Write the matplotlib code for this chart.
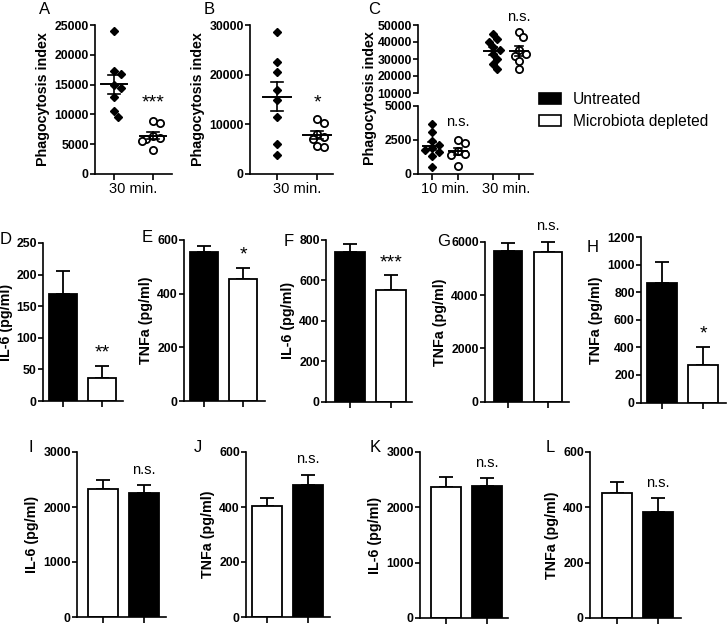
import numpy as np
import matplotlib
matplotlib.use("Agg")
import matplotlib.pyplot as plt
from matplotlib.patches import Patch

plt.rcParams['font.family'] = ['Liberation Sans', 'DejaVu Sans']

# phagocytosis index, one value per animal
a_untreated = [24000, 17300, 16800, 15000, 14500, 13000, 10500, 9600]
a_depleted = [8900, 8600, 6300, 6000, 5800, 5600, 4000]
b_untreated = [28500, 22500, 20500, 17000, 15000, 11500, 6000, 3800]
b_depleted = [11000, 10300, 8000, 7500, 7000, 5600, 5400]
c10_untreated = [3700, 3100, 2400, 2100, 1900, 1800, 1600, 1300, 500]
c10_depleted = [2500, 2300, 1700, 1500, 1400, 600]
c30_untreated = [45000, 42000, 40000, 37000, 35000, 33000, 30000, 27000, 24000]
c30_depleted = [46000, 43000, 35000, 33000, 32000, 29000, 24000]

# cytokine bar panels D-L: (mean, sem) for the two bars
bar_letters = ['D', 'E', 'F', 'G', 'H', 'I', 'J', 'K', 'L']
bar_ylabels = ['IL-6 (pg/ml)', 'TNFa (pg/ml)', 'IL-6 (pg/ml)', 'TNFa (pg/ml)', 'TNFa (pg/ml)',
               'IL-6 (pg/ml)', 'TNFa (pg/ml)', 'IL-6 (pg/ml)', 'TNFa (pg/ml)']
bar_means = [[169, 36], [556, 456], [742, 553], [5670, 5640], [870, 272],
             [2325, 2257], [404, 480], [2370, 2385], [452, 382]]
bar_sems = [[36, 20], [23, 40], [37, 72], [280, 370], [150, 133],
            [175, 140], [27, 38], [180, 145], [39, 52]]
bar_ymax = [250, 600, 800, 6000, 1200, 3000, 600, 3000, 600]
bar_ystep = [50, 200, 200, 2000, 200, 1000, 200, 1000, 200]
bar_sig = ['**', '*', '***', 'n.s.', '*', 'n.s.', 'n.s.', 'n.s.', 'n.s.']

W, H = 727, 625
fig = plt.figure(figsize=(W / 100, H / 100), dpi=100)


def box(l, r, t, b):
    return [l / W, 1 - b / H, (r - l) / W, (b - t) / H]


def style(ax, bottom=True):
    ax.spines['top'].set_visible(False)
    ax.spines['right'].set_visible(False)
    ax.spines['left'].set_linewidth(1.2)
    ax.spines['bottom'].set_linewidth(1.2)
    if not bottom:
        ax.spines['bottom'].set_visible(False)
        ax.tick_params(axis='x', which='both', bottom=False, labelbottom=False)
    ax.tick_params(axis='y', length=3.5, width=1.2, pad=1, labelsize=8.8)
    ax.tick_params(axis='x', which='major', length=4, width=1.2)
    for t in ax.get_yticklabels():
        t.set_fontweight('bold')


def swarm(ax, x0, vals, d=8.0):
    # spread overlapping points sideways, in pixel space
    pts = ax.transData.transform(np.column_stack([np.full(len(vals), x0), vals]))
    xs = np.empty(len(vals))
    placed = []
    for i in np.argsort(vals)[::-1]:
        px, py = pts[i]
        for k in [0, 1, -1, 2, -2, 3, -3]:
            cx = px + k * d * 0.45
            if all(np.hypot(cx - qx, py - qy) >= d * 0.7 for qx, qy in placed):
                break
        placed.append((cx, py))
        xs[i] = cx
    return ax.transData.inverted().transform(np.column_stack([xs, pts[:, 1]]))[:, 0]


def dots(ax, x0, vals, filled):
    xs = swarm(ax, x0, vals)
    if filled:
        ax.plot(xs, vals, 'D', ms=4.4, color='black', mec='black', clip_on=False, zorder=3)
    else:
        ax.plot(xs, vals, 'o', ms=5.2, mfc='white', mec='black', mew=1.3, clip_on=False, zorder=3)
    m = np.mean(vals)
    s = np.std(vals, ddof=1) / np.sqrt(len(vals))
    ax.plot([x0 - 0.34, x0 + 0.34], [m, m], color='black', lw=1.4, zorder=4)
    ax.plot([x0, x0], [m - s, m + s], color='black', lw=1.2, zorder=4)
    for y in (m - s, m + s):
        ax.plot([x0 - 0.15, x0 + 0.15], [y, y], color='black', lw=1.2, zorder=4)


def sig(ax, x, y, text, off=9):
    size = 10.5 if text == 'n.s.' else 14
    ax.annotate(text, xy=(x, y), xytext=(0, off), textcoords='offset points',
                ha='center', va='center', fontsize=size, annotation_clip=False)


def letter(x, y, s):
    fig.text(x / W, 1 - y / H, s, fontsize=12, ha='left', va='center')


def xlabels(ax, ticks, centers, labels):
    ax.set_xticks(ticks)
    ax.set_xticklabels([''] * len(ticks))
    ax.set_xticks(centers, minor=True)
    ax.set_xticklabels(labels, minor=True, fontsize=10.5)
    ax.tick_params(axis='x', which='minor', length=0, pad=6)


# ---- A ----
ax = fig.add_axes(box(95, 172, 25, 174))
ax.set_xlim(-0.49, 1.49)
ax.set_ylim(0, 25000)
ax.set_yticks(range(0, 25001, 5000))
style(ax)
xlabels(ax, [0, 1], [0.5], ['30 min.'])
dots(ax, 0, a_untreated, True)
dots(ax, 1, a_depleted, False)
sig(ax, 1, max(a_depleted), '***', 13)
ax.set_ylabel('Phagocytosis index', fontsize=10.3, fontweight='bold', labelpad=3)
letter(39, 9, 'A')

# ---- B ----
ax = fig.add_axes(box(250, 333, 25, 174))
ax.set_xlim(-0.675, 1.4)
ax.set_ylim(0, 30000)
ax.set_yticks(range(0, 30001, 10000))
style(ax)
xlabels(ax, [0, 1], [0.5], ['30 min.'])
dots(ax, 0, b_untreated, True)
dots(ax, 1, b_depleted, False)
sig(ax, 1, max(b_depleted), '*', 12)
ax.set_ylabel('Phagocytosis index', fontsize=10.3, fontweight='bold', labelpad=3)
letter(204, 9, 'B')

# ---- C (broken axis) ----
c_x = [0, 1, 2.35, 3.35]
cu = fig.add_axes(box(418, 533, 25, 93))
cl = fig.add_axes(box(418, 533, 106, 174))
for a in (cu, cl):
    a.set_xlim(-0.54, 3.89)
cu.set_ylim(10000, 50000)
cu.set_yticks(range(10000, 50001, 10000))
cl.set_ylim(0, 5000)
cl.set_yticks([0, 2500, 5000])
style(cu, bottom=False)
style(cl)
xlabels(cl, c_x, [0.5, 2.85], ['10 min.', '30 min.'])
dots(cl, c_x[0], c10_untreated, True)
dots(cl, c_x[1], c10_depleted, False)
dots(cu, c_x[2], c30_untreated, True)
dots(cu, c_x[3], c30_depleted, False)
sig(cl, c_x[1], max(c10_depleted), 'n.s.', 13)
sig(cu, c_x[3], max(c30_depleted), 'n.s.', 11)
fig.text(370 / W, 1 - 98 / H, 'Phagocytosis index', rotation=90, fontsize=10.3,
         fontweight='bold', ha='center', va='center')
letter(368, 9, 'C')

# legend
fig.legend(handles=[Patch(facecolor='black', edgecolor='black', lw=1.2),
                    Patch(facecolor='white', edgecolor='black', lw=1.2)],
           labels=['Untreated', 'Microbiota depleted'],
           loc='upper left', bbox_to_anchor=(537 / W, 1 - 90 / H), frameon=False,
           fontsize=11.2, handlelength=1.45, handleheight=0.7, handletextpad=0.75,
           labelspacing=0.45, borderaxespad=0, borderpad=0.1)

# ---- bar panels D-L ----
bar_boxes = [(43, 123, 243, 401), (184, 265, 240, 401), (326, 412, 240, 401.5),
             (485, 569, 242, 401.5), (641, 726, 237, 402.5),
             (77, 166, 452, 617), (246, 330, 452, 617), (420, 508, 452, 618), (590, 681, 452, 618)]
bar_xlims = [(-0.51, 1.54), (-0.51, 1.56), (-0.585, 1.51), (-0.575, 1.525), (-0.5, 1.55),
             (-0.63, 1.54), (-0.51, 1.54), (-0.63, 1.51), (-0.66, 1.56)]
bar_letter_pos = [(0, 240), (142, 237), (284, 242), (437, 242), (587, 247),
                  (28, 447), (194, 447), (370, 447), (546, 447)]
bar_fills = [['black', 'white']] * 5 + [['white', 'black']] * 4

for i in range(9):
    ax = fig.add_axes(box(*bar_boxes[i]))
    ax.set_xlim(*bar_xlims[i])
    ax.set_ylim(0, bar_ymax[i])
    ax.set_yticks(np.arange(0, bar_ymax[i] + 1, bar_ystep[i]))
    style(ax)
    ax.set_xticks([0, 1])
    ax.set_xticklabels(['', ''])
    means = bar_means[i]
    sems = bar_sems[i]
    ax.errorbar([0, 1], means, yerr=[[0, 0], sems], fmt='none', ecolor='black',
                elinewidth=1.3, capsize=5, capthick=1.3, clip_on=False, zorder=1)
    ax.bar([0, 1], means, width=0.72, color=bar_fills[i], edgecolor='black',
           linewidth=1.3, zorder=2)
    top = means[1] + sems[1]
    if bar_sig[i] == 'n.s.':
        sig(ax, 1, top, 'n.s.', 11)
    else:
        sig(ax, 1, top, bar_sig[i], 9)
    ax.set_ylabel(bar_ylabels[i], fontsize=10.3, fontweight='bold', labelpad=3)
    if i == 0:
        # first panel sits against the left edge of the figure
        ax.yaxis.set_label_coords(-0.37, 0.5)
    letter(*bar_letter_pos[i], bar_letters[i])

fig.savefig('out.png', dpi=100)
